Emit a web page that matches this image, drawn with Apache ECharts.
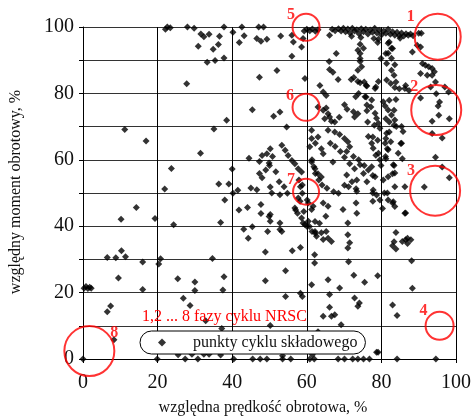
<!DOCTYPE html>
<html><head><meta charset="utf-8">
<script src="https://cdn.jsdelivr.net/npm/echarts@6/dist/echarts.min.js"></script>
<style>html,body{margin:0;padding:0;background:#fff}#c{width:474px;height:418px}</style>
</head><body><div id="c"></div>
<script>
// axis ranges / ticks
const xTicks = [0, 20, 40, 60, 80, 100];
const yTicks = [0, 20, 40, 60, 80, 100];
const seriesName = 'punkty cyklu składowego';
const noteText = '1,2 ... 8 fazy cyklu NRSC';
const xTitle = 'względna prędkość obrotowa, %';
const yTitle = 'względny moment obrotowy, %';

// NRSC phase markers (speed %, torque %)
const phaseLabels = ['1','2','3','4','5','6','7','8'];
const phaseSpeed  = [95.1, 94.7, 94.4, 95.6, 59.8, 59.8, 59.8, 1.7];
const phaseTorque = [97.1, 75.0, 50.7, 10.0, 99.9, 75.8, 50.4, 2.4];

// component-cycle points [speed %, torque %]
const cyclePoints = [
[0,0],[0.3,21.3],[0.8,21.8],[1.3,21.2],[1.8,21.6],[2.2,21.3],[6.5,14.2],[7.4,16],[8.3,5.8],[6.5,30.6],[8.8,30.5],[10.3,32.6],[11.4,30.8],[9.5,24.4],[10.2,42.1],[11.2,69.1],[14.3,45.6],[16,29.2],[16,20.9],[16.9,65.7],[19.3,42.3],[19.9,0],[20.3,28.6],[20.8,30.2],[21.9,51.2],[22.1,99.3],[22.6,100],[23.4,99.8],[23.7,57.4],[24.3,40.4],[25.4,24.2],
[25.5,1.3],[27.4,0],[26.9,18.3],[27.8,82.9],[28,100],[28.7,16.1],[29.2,1.4],[29.8,99.6],[30,23.2],[30,20.6],[30.8,0],[30.9,94.2],[31.5,62],[31.6,97.9],[32.4,97.1],[32.4,1.4],[32.9,11.5],[33.3,89.4],[33.8,97.8],[33.8,1.4],[34.7,30.3],[34.9,93.3],[35.1,69.3],[35.4,89.9],[36.3,94.7],[36.6,97.2],[36.4,52.7],[36.9,41.1],[36.9,1.2],[37.2,9.2],[37.5,20.8],[37.8,24.8],[37.8,90.7],[37.8,100],[38,47.9],[38.5,71.9],[39.1,52.7],
[40,57.2],[40.2,98.4],[40.2,49.9],[40.4,0],[41.5,50.8],[41.8,44.9],[41.9,95.3],[42.6,100],[43.2,97.4],[44.1,45.6],[43.1,39.1],[45.4,39.8],[44.3,36.4],[44.5,60.5],[45.4,75.1],[45.5,0],[47.3,84.9],[46.6,96.5],[47.1,100],[47.7,95.7],[48.4,100],[49.3,96.3],[47.3,59.5],[48,61.3],[49.3,61.8],[50.2,63.3],[50,58.3],[48,54.6],[46.6,51],[45,51.5],[47.7,46.5],[47.7,43.8],[49.9,42.9],[49.5,38.4],[48.9,23.6],[48.9,32.2],[47.5,0],[49.3,0],[50.2,10.1],[50.2,41.5],[50.2,51.8],
[50.6,50],[52.8,49.5],[50.2,43.5],[52.8,39],[52.8,41],[53.3,38.4],[51.1,73.1],[52.8,74.4],[54.6,69.9],[52,86.9],[53,97.3],[56,97.5],[56.4,95.5],[58.6,94],[56,91.2],
[53.3,64.4],[54.2,62.9],[55,61.3],[56,59.8],[56.8,58.8],[57.7,57.3],[58.6,56.3],[50.8,61],[49.9,59],[49,56.9],[47.3,55.9],[51.7,56.4],[52.6,53.4],[53.9,51.9],[54.8,49.9],[57.9,53.9],[58.8,52.4],[58.3,51.9],[58.8,49.9],[60.1,47.9],
[57.7,48.5],[58.2,47.5],[60.4,47],[61.7,46],[61.3,45],[60.4,41.5],[59.5,40.5],[56.8,45.5],[57.5,43.9],[58.6,42.5],[59,41],[60,40],[57,44.9],[59.2,44.4],[60.7,39.9],[61.4,38.4],[62.3,37.9],[62.2,41.4],[63.4,40.9],
[53.5,0],[55.7,0],[53.5,1],[54.3,26.6],[54.3,18.8],[56.1,32.6],[58.3,33.6],[58.3,19.8],[58.8,18.8],
[59.5,84.5],[59.3,98.8],[60,99.3],[60.8,98.9],[61.5,99.4],[62.3,98.7],[63,99.2],[59,96.5],
[61.3,68.9],[61.3,66.4],[60.8,63.9],[63,66.9],[63.9,63.3],[64.4,61.8],[62.3,65],[61.3,59.3],[62.2,57.3],[63,55.8],[63.9,54.8],[61.4,60],[61.9,57.9],[62.3,55.9],[63.2,53.9],[64.1,52.4],[65.4,51.4],[67.2,50.4],[68.5,49.9],
[63,75.9],[64.4,74.9],[65.2,75.6],[65.7,73.9],[66.1,72.9],[66.6,71.6],[64.8,72.4],[67.5,71.4],[70.1,76.6],[70.8,75.2],[72.8,72.9],[73.7,73.9],[68.7,72.8],[72.5,74.5],
[65.7,68.9],[67.5,68.4],[68.8,67.6],[70.1,66.4],[71,65.4],[71.5,63.9],[66.3,65],[67.6,64],[69,62.5],[70.7,62.5],[72.5,61],[73.9,60],[74.3,58.5],
[67,59.3],[70.1,60.8],[71.5,58.8],[72.8,57.3],[70.1,52.3],[73.2,51.3],[70.7,55.4],[71.2,51.9],[72.1,53.4],[73.4,53.9],[75.2,55.9],
[63.5,82.4],[64.4,80.4],[65.2,79.4],
[66.1,97.5],[66.8,99.3],[67.6,98.9],[67.9,92],[66.1,87.2],[67,86.4],[68.4,84.2],[66,89.6],
[71.9,84.2],[72.6,84.8],[73.7,83.6],[74.3,83.2],[73.7,87],[74.7,88],[74.3,92],[74.3,90.5],[74.3,89.6],[73.7,93],[75.2,93.6],[74.3,94.8],
[73.1,79],[73.9,80],[75.6,79],[77.4,78],[76.1,76.5],[76.1,74.8],
[78.3,74],[78.7,72.5],[79.2,71],[79.6,69.5],[76.5,67],[77.4,65],[77.8,63.5],[79.2,62],[79.6,60],
[76.1,53.4],[76.5,56.9],[77.4,57.9],[78.3,54.9],[77.8,50.9],[78.7,49.4],[79.6,47.9],[77.7,50],[77.7,47.5],
[75.4,83.4],[75.9,82.4],[78.5,81.9],[76.1,82.2],[78.3,81.5],[79.2,83.6],[75.9,78.9],[77.2,75.9],[76.3,71.4],[78.1,70.4],[77.7,66.9],[79,65.9],[78.5,61.4],[79.9,58.3],[77.7,55.3],[75.4,58.3],
[64.4,47],[65.7,46],[65.1,43],[69.7,45],[73.2,47],[73.4,50.5],[62.2,38.4],[62.6,37],[63.9,38],[65.2,38.4],[64.4,36],[65.7,36.4],[66.6,35.4],[71,41],[71,37.4],[71.5,35],[71,33.4],[71.2,29.3],[62.1,31.4],[62.1,28.9],
[65.7,23.9],[66.1,19.4],[61.3,22.4],[68.8,21.4],[72.6,25.2],[72.8,18.4],[74.1,16.9],[73.7,15.9],[66.1,15.6],[64.4,12.9],[66.6,12.9],[67.5,13.3],[69.2,10.3],[63,8.2],[75.5,23.1],[79,25.1],
[60.8,0],[61.5,1.3],[62,0],[68.4,0],[70.1,0],[72.3,0],[73.7,0],[75.2,0],[76.8,0],[78.7,2],[73.4,43.9],
[68.5,99.5],[69.2,98.8],[69.8,99.6],[70.4,98.6],[71,99.4],[71.6,98.2],[72.2,99.6],[72.8,98.8],[73.4,99.2],[74,98],[74.6,99.5],[75.2,98.6],[75.8,99.3],[76.4,97.9],[77,99.1],[77.6,98.4],[78.2,99.6],[78.8,98.2],[79.4,99],[80,97.6],[80.6,98.8],[81.2,98.1],[81.8,99.3],[82.4,97.8],[83,98.6],[83.6,97.5],[84.2,98.4],[84.8,97.4],[85.4,98.2],[86,97.3],[86.6,98],[87.2,97.5],[87.8,97.9],[88.5,97.4],[72,97.2],[74.5,96.8],[78,96.5],[85,96.6],
[80.5,77.5],[81,76.2],[81.8,75],[82.7,73.5],[83.6,72],[84,70],[85.4,70],[85.8,68.5],[81.4,68],[81,65],[81.8,63],[81.1,61],[85.4,65],[84.5,62],[83.2,58.5],[83.6,56],[80.5,53.9],[81.8,54.9],[83.6,51.9],[86.3,51.9],[81.8,47.9],[83.2,47.4],[80.8,50],[81.6,50],[80.3,45.3],[83,47],[86.5,44],[83.6,45.9],
[82.1,77.9],[83.9,78.2],[83.4,74.9],[81.2,72.4],[82.1,71.4],[83.4,70.4],[82.1,68.4],[81.2,66.4],[82.5,65.4],[81.6,63.3],[85.2,64.9],[81.2,60.3],[85.6,60.3],[83.4,58.3],[83,55.8],
[79.2,96.3],[81.8,95.1],[82.7,93.6],[81.8,92.1],[82.7,90.6],[81.4,89],[83.6,88.6],[82.7,87],[83.4,85.5],[81.4,84],[82.5,83],[83.6,81.8],[86.3,81.5],[79,95.3],[82.1,95.5],[83,93.5],[81.2,92],[79.9,90.5],[88.3,92.5],[89.6,94.5],[90.5,94],[84.8,81.4],[86.5,82.4],[87.4,80.9],[83.9,83.4],
[91,89],[91.8,88.5],[92.7,88],[93.6,87.5],[90.5,86],[92.3,85.5],[93.6,85.5],[94.5,83.4],[93.2,81.9],[97,81.9],[98,80.4],[94.2,86.5],
[90.5,78.6],[94.7,79.9],[95.6,77.4],[95.2,76.2],[95.4,73.4],[93.6,71.6],[98.2,72.4],
[93.6,67.9],[96.3,66.6],[94.5,60.8],[96.3,57.8],[98.2,54.6],[91.5,51.8],
[83.9,38.1],[83.4,35.3],[83,34.1],[83.9,33.1],[85.6,35.4],[86.5,35.9],[87,36.4],[87.9,35.9],[87,34.8],[88.1,29.6],[88.3,21.3],[83,16.3],[84.2,13.1],[84.2,0],[94.6,0],[79.1,2],[90,98.1],[90.7,98.1],[86.3,43.9]
];

// presentation of the phase circles (pixel sizes and label offsets)
const phaseSymbolSize = [46, 50, 50, 28, 27, 27, 26, 50];
const phaseLabelOffset = [[-27,-20],[-22,-23],[-24,-20],[-16,-15],[-15,-12],[-16,-11],[-15,-12],[25,-18]];

const FONT = '"Liberation Serif", "Times New Roman", serif';
const chart = echarts.init(document.getElementById('c'), null, {renderer: 'canvas'});

const phaseData = phaseLabels.map((n, i) => ({
  name: n,
  value: [phaseSpeed[i], phaseTorque[i]],
  symbolSize: phaseSymbolSize[i],
  label: { offset: phaseLabelOffset[i] }
}));

chart.setOption({
  animation: false,
  backgroundColor: '#fff',
  grid: { left: 83, top: 27, right: 15, bottom: 59, containLabel: false },
  title: {
    text: noteText, left: 142, top: 309, padding: 0,
    textStyle: { color: '#ff0000', fontFamily: FONT, fontSize: 16, fontWeight: 'normal' }
  },
  legend: {
    data: [{ name: seriesName, icon: 'diamond' }],
    left: 140, top: 331,
    itemWidth: 8, itemHeight: 8,
    padding: [3, 8, 3, 18],
    backgroundColor: '#fff', borderColor: '#000', borderWidth: 1, borderRadius: 11.5,
    selectedMode: false,
    textStyle: { fontFamily: FONT, fontSize: 16, color: '#111', lineHeight: 17, padding: [0, 0, 0, 22] }
  },
  xAxis: {
    type: 'value', min: xTicks[0], max: xTicks[xTicks.length - 1], interval: xTicks[1] - xTicks[0],
    axisLine: { show: true, onZero: false, lineStyle: { color: '#000', width: 1 } },
    axisTick: { show: true, length: 4, inside: false, lineStyle: { color: '#000' } },
    axisLabel: { margin: 14, fontFamily: FONT, fontSize: 20, color: '#111' },
    splitLine: { show: true, lineStyle: { color: '#000', width: 1 } }
  },
  yAxis: {
    type: 'value', min: yTicks[0], max: yTicks[yTicks.length - 1], interval: 10,
    axisLine: { show: true, onZero: false, lineStyle: { color: '#000', width: 1 } },
    axisTick: { show: true, length: 4, interval: 0, lineStyle: { color: '#000' } },
    axisLabel: {
      margin: 9, fontFamily: FONT, fontSize: 20, color: '#111', interval: 0,
      formatter: v => (yTicks.indexOf(v) >= 0 ? String(v) : '')
    },
    splitLine: { show: true, interval: 0, lineStyle: { color: '#333', width: 1 } }
  },
  graphic: [
    { type: 'text', x: 263, y: 408, z: 10,
      style: { text: xTitle, font: '16px ' + FONT, fill: '#111', textAlign: 'center', textVerticalAlign: 'middle' } },
    { type: 'text', x: 16, y: 192, rotation: Math.PI / 2, z: 10,
      style: { text: yTitle, font: '16px ' + FONT, fill: '#111', textAlign: 'center', textVerticalAlign: 'middle' } }
  ],
  series: [
    {
      name: seriesName, type: 'scatter', symbol: 'diamond', symbolSize: 7,
      itemStyle: { color: '#000' }, data: cyclePoints, clip: false, z: 2
    },
    {
      name: 'fazy', type: 'scatter', symbol: 'circle', clip: false, z: 3,
      itemStyle: { color: 'rgba(0,0,0,0)', borderColor: '#ff0000', borderWidth: 2 },
      label: { show: true, position: 'inside', formatter: '{b}', color: '#ff0000',
               fontFamily: FONT, fontSize: 16, fontWeight: 'bold' },
      emphasis: { disabled: true },
      data: phaseData
    }
  ]
});
</script></body></html>
